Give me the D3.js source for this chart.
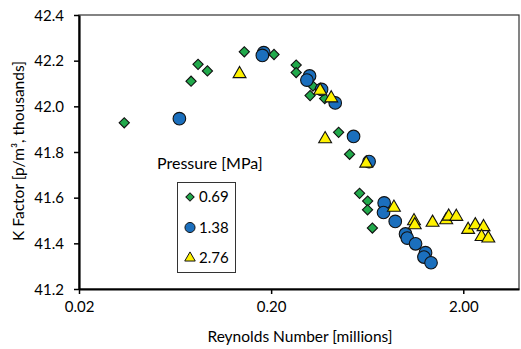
<!DOCTYPE html>
<html>
<head>
<meta charset="utf-8">
<script src="https://cdn.jsdelivr.net/npm/d3@7"></script>
<style>
  body { margin: 0; background: #fff; }
  svg text { font-family: Lato, "Open Sans", sans-serif; fill: #000; }
</style>
</head>
<body>
<div id="chart"></div>
<script>
// Reynolds number [millions] and K factor [thousands] per pressure series
const re069 = [0.0344, 0.0766, 0.0833, 0.0932, 0.145, 0.207, 0.270, 0.270, 0.330, 0.319, 0.380, 0.449, 0.512, 0.577, 0.636, 0.635, 0.673];
const k069  = [41.928, 42.110, 42.184, 42.155, 42.239, 42.227, 42.181, 42.148, 42.089, 42.047, 42.034, 41.886, 41.790, 41.619, 41.585, 41.547, 41.467];

const re138 = [0.0666, 0.183, 0.180, 0.317, 0.307, 0.366, 0.431, 0.537, 0.647, 0.775, 0.769, 0.885, 1.001, 1.022, 1.129, 1.272, 1.248, 1.359];
const k138  = [41.946, 42.235, 42.223, 42.133, 42.115, 42.074, 42.015, 41.868, 41.758, 41.577, 41.535, 41.496, 41.441, 41.423, 41.398, 41.359, 41.340, 41.315];

const re276 = [0.137, 0.360, 0.411, 0.382, 0.625, 0.871, 1.108, 1.118, 1.384, 1.63, 1.68, 1.84, 2.12, 2.31, 2.55, 2.49, 2.70];
const k276  = [42.142, 42.069, 42.036, 41.857, 41.750, 41.557, 41.498, 41.480, 41.491, 41.502, 41.518, 41.517, 41.460, 41.480, 41.472, 41.429, 41.422];

const seriesNames = ["0.69", "1.38", "2.76"];
const xTicks = [0.02, 0.2, 2];
const yTicks = [41.2, 41.4, 41.6, 41.8, 42.0, 42.2, 42.4];

const width = 521, height = 349;
const margin = { top: 15, right: 2, bottom: 60, left: 79 };

const svg = d3.select("#chart").append("svg")
  .attr("width", width)
  .attr("height", height);

const x = d3.scaleLog()
  .domain([0.02, 3.9])
  .range([margin.left, width - margin.right]);

const y = d3.scaleLinear()
  .domain([41.2, 42.4])
  .range([height - margin.bottom, margin.top]);

// plot area frame (thin)
svg.append("rect")
  .attr("x", margin.left)
  .attr("y", margin.top)
  .attr("width", width - margin.right - margin.left)
  .attr("height", height - margin.bottom - margin.top)
  .attr("fill", "none")
  .attr("stroke", "#333")
  .attr("stroke-width", 1.2);

const xAxis = svg.append("g")
  .attr("transform", "translate(0," + (height - margin.bottom) + ")")
  .call(d3.axisBottom(x).tickValues(xTicks).tickFormat(d3.format(".2f")).tickSize(5).tickSizeOuter(0));

const yAxis = svg.append("g")
  .attr("transform", "translate(" + margin.left + ",0)")
  .call(d3.axisLeft(y).tickValues(yTicks).tickFormat(d3.format(".1f")).tickSize(5).tickSizeOuter(0));

[xAxis, yAxis].forEach(g => {
  g.select(".domain").attr("stroke", "#000").attr("stroke-width", 2.2);
  g.selectAll(".tick line").attr("stroke", "#000").attr("stroke-width", 1.5);
  g.selectAll(".tick text").attr("font-size", "15px").attr("fill", "#222");
});
xAxis.selectAll(".tick text").attr("dy", "1.0em");
yAxis.selectAll(".tick text").attr("dy", "0.35em").attr("x", -15);

// axis titles
svg.append("text")
  .attr("x", 300)
  .attr("y", 342)
  .attr("text-anchor", "middle")
  .attr("font-size", "15.5px")
  .attr("fill", "#222")
  .text("Reynolds Number [millions]");

svg.append("text")
  .attr("transform", "translate(24,151) rotate(-90)")
  .attr("text-anchor", "middle")
  .attr("font-size", "15.5px")
  .attr("fill", "#222")
  .text("K Factor [p/m³, thousands]");

// markers
const diamond = d3.symbol().type(d3.symbolSquare).size(52);
const circle = d3.symbol().type(d3.symbolCircle).size(125);
const triangle = d3.symbol().type(d3.symbolTriangle).size(72);

const series = [
  { re: re069, k: k069, sym: diamond, rot: 45, fill: "#21a94b" },
  { re: re138, k: k138, sym: circle, rot: 0, fill: "#1b6fbd" },
  { re: re276, k: k276, sym: triangle, rot: 0, fill: "#fff200" }
];

series.forEach(s => {
  svg.append("g").selectAll("path")
    .data(s.re.map((r, i) => [r, s.k[i]]))
    .join("path")
    .attr("d", s.sym())
    .attr("transform", d => "translate(" + x(d[0]) + "," + y(d[1]) + ") rotate(" + s.rot + ")")
    .attr("fill", s.fill)
    .attr("stroke", "#111")
    .attr("stroke-width", 1.1);
});

// legend
svg.append("text")
  .attr("x", 157)
  .attr("y", 169)
  .attr("font-size", "16px")
  .attr("fill", "#222")
  .text("Pressure [MPa]");

const legend = svg.append("g");
legend.append("rect")
  .attr("x", 177.5)
  .attr("y", 182.5)
  .attr("width", 58)
  .attr("height", 90)
  .attr("fill", "#fff")
  .attr("stroke", "#333")
  .attr("stroke-width", 1);

const legendSyms = [
  d3.symbol().type(d3.symbolSquare).size(34),
  d3.symbol().type(d3.symbolCircle).size(80),
  d3.symbol().type(d3.symbolTriangle).size(48)
];

seriesNames.forEach((name, i) => {
  const cy = 197 + i * 30.5;
  legend.append("path")
    .attr("d", legendSyms[i]())
    .attr("transform", "translate(190," + cy + ") rotate(" + series[i].rot + ")")
    .attr("fill", series[i].fill)
    .attr("stroke", "#111")
    .attr("stroke-width", 1);
  legend.append("text")
    .attr("x", 199)
    .attr("y", cy)
    .attr("dy", "0.36em")
    .attr("font-size", "15px")
    .attr("fill", "#222")
    .text(name);
});
</script>
</body>
</html>
